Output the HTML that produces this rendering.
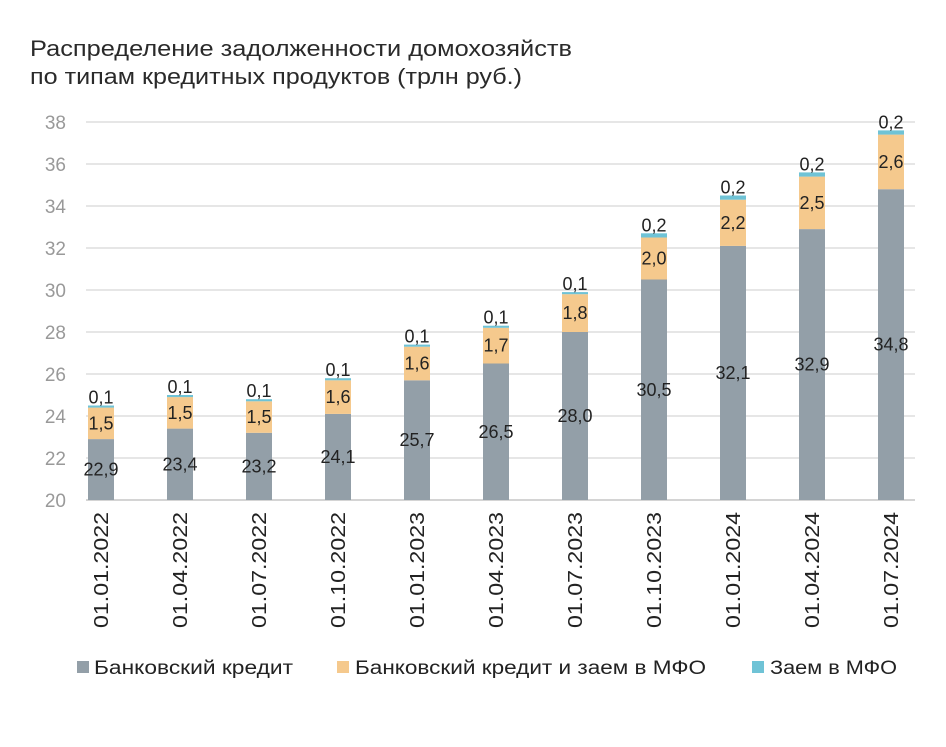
<!DOCTYPE html>
<html><head><meta charset="utf-8"><style>
body{margin:0;background:#fff;}
svg{font-family:"Liberation Sans",sans-serif;}
</style></head><body>
<svg id="chart" width="946" height="742">
<text x="30" y="56" font-size="22" fill="#2a2a2a" textLength="542" lengthAdjust="spacingAndGlyphs">Распределение задолженности домохозяйств</text>
<text x="30" y="84" font-size="22" fill="#2a2a2a" textLength="492" lengthAdjust="spacingAndGlyphs">по типам кредитных продуктов (трлн руб.)</text>
<g id="grid"></g><g id="bars"></g><g id="labels"></g>
<g>
<rect x="77" y="661" width="12" height="12" fill="#939fa8"/>
<text x="94" y="674" font-size="19" fill="#222" textLength="199" lengthAdjust="spacingAndGlyphs">Банковский кредит</text>
<rect x="337" y="661" width="12" height="12" fill="#f5c98d"/>
<text x="355" y="674" font-size="19" fill="#222" textLength="351" lengthAdjust="spacingAndGlyphs">Банковский кредит и заем в МФО</text>
<rect x="752" y="661" width="12" height="12" fill="#6fc3d6"/>
<text x="770" y="674" font-size="19" fill="#222" textLength="127" lengthAdjust="spacingAndGlyphs">Заем в МФО</text>
</g>
</svg>
<script>
const categories=["01.01.2022","01.04.2022","01.07.2022","01.10.2022","01.01.2023","01.04.2023","01.07.2023","01.10.2023","01.01.2024","01.04.2024","01.07.2024"];
const bankValues=[22.9,23.4,23.2,24.1,25.7,26.5,28.0,30.5,32.1,32.9,34.8];
const bankMfoValues=[1.5,1.5,1.5,1.6,1.6,1.7,1.8,2.0,2.2,2.5,2.6];
const mfoValues=[0.1,0.1,0.1,0.1,0.1,0.1,0.1,0.2,0.2,0.2,0.2];
const yTicks=[20,22,24,26,28,30,32,34,36,38];
const NS="http://www.w3.org/2000/svg";
const y=v=>500-(v-20)*21;
const x=i=>101+i*79;
const fmt=v=>v.toFixed(1).replace('.',',');
function mk(t,a,p){const e=document.createElementNS(NS,t);for(const k in a)e.setAttribute(k,a[k]);p.appendChild(e);return e;}
const g=document.getElementById('grid'),b=document.getElementById('bars'),l=document.getElementById('labels');
yTicks.forEach(v=>{
 const ln=mk('line',{x1:86,x2:915,y1:y(v),y2:y(v),stroke:v==20?'#bbb':'#d6d6d6','stroke-width':1.2},g);
 
 
 const t=mk('text',{x:66,y:y(v)+7,'font-size':19,fill:'#999','text-anchor':'end'},g);
 t.textContent=v;
 
 
});
categories.forEach((c,i)=>{
 const cx=x(i),w=26;
 const b0=bankValues[i],b1=b0+bankMfoValues[i],b2=b1+mfoValues[i];
 const r1=mk('rect',{x:cx-w/2,y:y(b0),width:w,height:y(20)-y(b0),fill:'#939fa8'},b);
 
 
 const r2=mk('rect',{x:cx-w/2,y:y(b1),width:w,height:y(b0)-y(b1),fill:'#f5c98d'},b);
 
 
 const r3=mk('rect',{x:cx-w/2,y:y(b2),width:w,height:y(b1)-y(b2),fill:'#6fc3d6'},b);
 
 
 const t1=mk('text',{x:cx,y:(y(20)+y(b0))/2+6,'font-size':18,fill:'#222','text-anchor':'middle'},l);
 t1.textContent=fmt(b0);
 
 
 const om=(y(b0)+y(b1))/2;
 const t2=mk('text',{x:cx,y:om+6,'font-size':18,fill:'#222','text-anchor':'middle'},l);
 t2.textContent=fmt(bankMfoValues[i]);
 
 
 const t3=mk('text',{x:cx,y:Math.min(y(b2)-8,om-24)+6,'font-size':18,fill:'#222','text-anchor':'middle'},l);
 t3.textContent=fmt(mfoValues[i]);
 
 
 const xl=mk('text',{x:0,y:0,'font-size':20,fill:'#222','text-anchor':'end',textLength:116,lengthAdjust:'spacingAndGlyphs',transform:`translate(${cx+7},512) rotate(-90)`},l);
 xl.textContent=c;
 
 
});
</script>
</body></html>
